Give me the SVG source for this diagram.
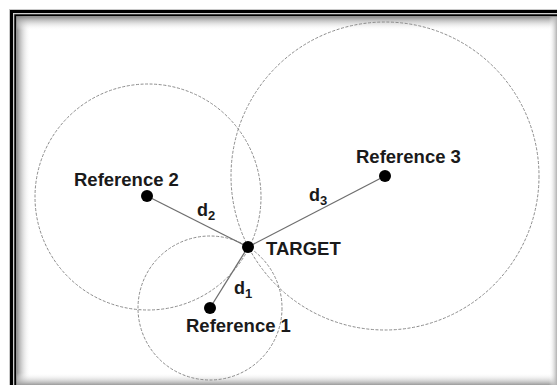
<svg xmlns="http://www.w3.org/2000/svg" width="557" height="385" viewBox="0 0 557 385">
  <defs>
    <linearGradient id="shL" x1="0" y1="0" x2="1" y2="0">
      <stop offset="0" stop-color="#8a8a8a"/>
      <stop offset="1" stop-color="#ffffff" stop-opacity="0"/>
    </linearGradient>
    <linearGradient id="shT" x1="0" y1="0" x2="0" y2="1">
      <stop offset="0" stop-color="#8a8a8a"/>
      <stop offset="1" stop-color="#ffffff" stop-opacity="0"/>
    </linearGradient>
    <linearGradient id="shB" x1="0" y1="0" x2="0" y2="1">
      <stop offset="0" stop-color="#ffffff" stop-opacity="0"/>
      <stop offset="1" stop-color="#9a9a9a"/>
    </linearGradient>
    <linearGradient id="shR" x1="0" y1="0" x2="1" y2="0">
      <stop offset="0" stop-color="#ffffff" stop-opacity="0"/>
      <stop offset="1" stop-color="#b0b0b0"/>
    </linearGradient>
  </defs>
  <style>
    .ring { fill: none; stroke: #8c8c8c; stroke-width: 1; stroke-dasharray: 3 1.6; }
    .link { stroke: #6e6e6e; stroke-width: 1.3; }
    .dot { fill: #000; }
    .lbl { font-family: "Liberation Sans", Arial, sans-serif; font-weight: bold; font-size: 18.5px; fill: #1a1a1a; }
    .d { font-family: "Liberation Sans", Arial, sans-serif; font-weight: bold; font-size: 18px; fill: #1a1a1a; }
    .sub { font-size: 13px; }
  </style>
  <rect x="0" y="0" width="557" height="385" fill="#fff"/>
  <g id="frame">
    <rect x="16.5" y="16.5" width="14" height="370" fill="url(#shL)"/>
    <rect x="16.5" y="16.5" width="541" height="14" fill="url(#shT)"/>
    <rect x="16.5" y="373" width="541" height="12" fill="url(#shB)"/>
    <rect x="549" y="16.5" width="8" height="369" fill="url(#shR)"/>
    <rect x="9.5" y="9.5" width="600" height="400" fill="none" stroke="#c8c8c8" stroke-width="1"/>
    <rect x="11.5" y="11.5" width="600" height="400" fill="none" stroke="#000" stroke-width="3"/>
    <rect x="13.75" y="13.75" width="600" height="400" fill="none" stroke="#bdbdbd" stroke-width="1"/>
    <rect x="15.25" y="15.25" width="600" height="400" fill="none" stroke="#000" stroke-width="2"/>
  </g>
  <g id="circles">
    <circle class="ring" cx="148" cy="197" r="113"/>
    <circle class="ring" cx="385" cy="176" r="154"/>
    <circle class="ring" cx="210" cy="308" r="72"/>
  </g>
  <g id="connectors">
    <line class="link" x1="147" y1="196" x2="248" y2="247"/>
    <line class="link" x1="385" y1="176" x2="248" y2="247"/>
    <line class="link" x1="210" y1="308" x2="248" y2="247"/>
    <text class="d" x="197" y="216">d<tspan class="sub" dy="4">2</tspan></text>
    <text class="d" x="309" y="201">d<tspan class="sub" dy="4">3</tspan></text>
    <text class="d" x="234" y="294">d<tspan class="sub" dy="4">1</tspan></text>
  </g>
  <g id="ref2">
    <circle class="dot" cx="147" cy="196" r="6"/>
    <text class="lbl" x="74" y="186">Reference 2</text>
  </g>
  <g id="ref3">
    <circle class="dot" cx="385" cy="176" r="6"/>
    <text class="lbl" x="356" y="163">Reference 3</text>
  </g>
  <g id="target">
    <circle class="dot" cx="248" cy="247" r="6"/>
    <text class="lbl" x="266" y="255">TARGET</text>
  </g>
  <g id="ref1">
    <circle class="dot" cx="210" cy="308" r="6"/>
    <text class="lbl" x="186" y="332">Reference 1</text>
  </g>
</svg>
